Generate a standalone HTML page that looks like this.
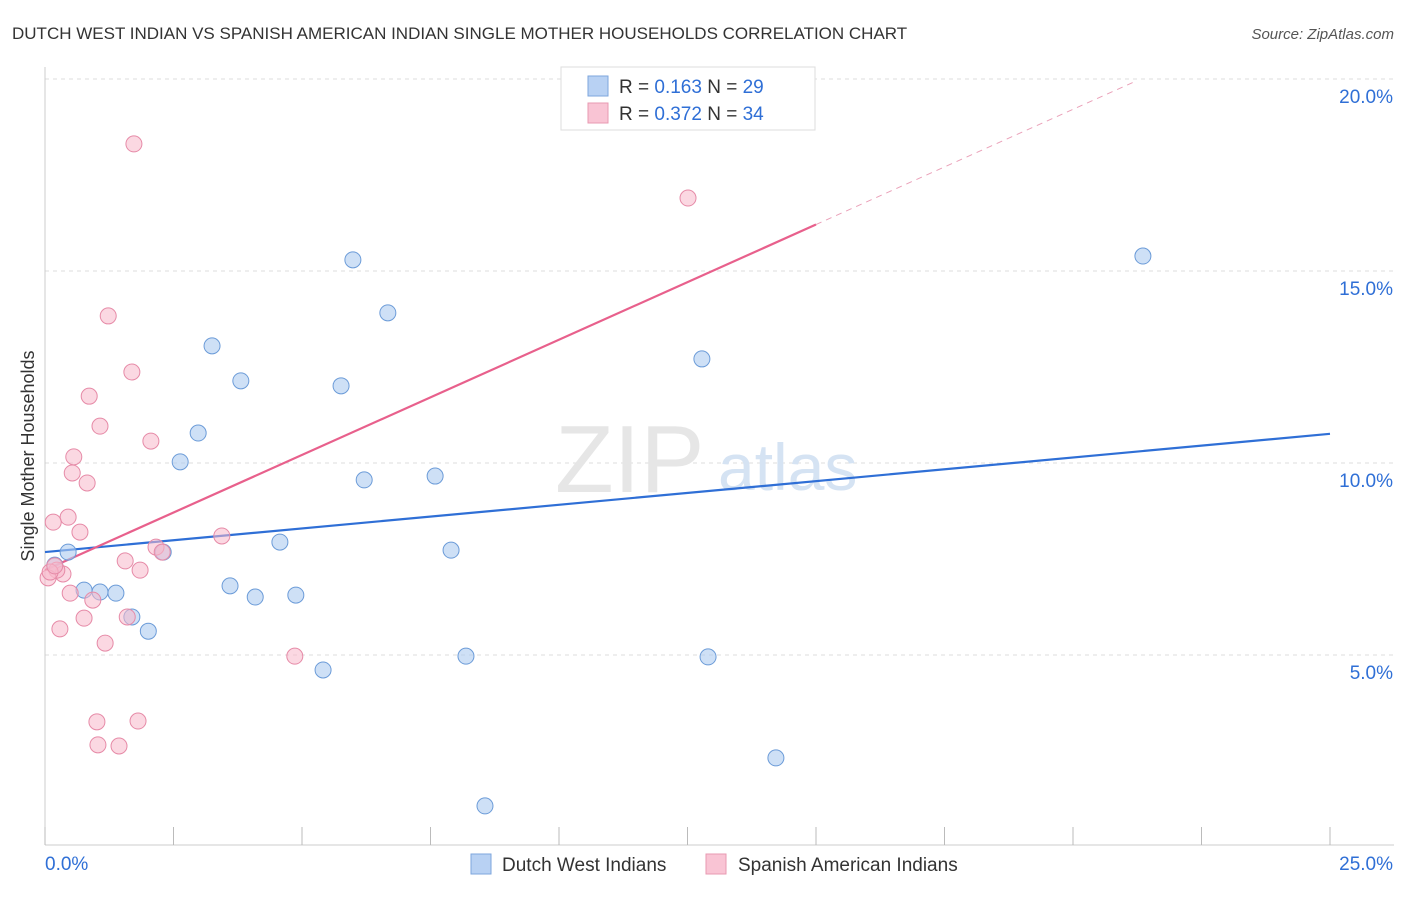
<!DOCTYPE html>
<html><head><meta charset="utf-8"><style>
body{margin:0;background:#fff;font-family:"Liberation Sans",sans-serif;}
svg text{font-family:"Liberation Sans",sans-serif;}
</style></head><body>
<svg width="1406" height="892" xmlns="http://www.w3.org/2000/svg">
<text x="12" y="39" font-size="17" fill="#333">DUTCH WEST INDIAN VS SPANISH AMERICAN INDIAN SINGLE MOTHER HOUSEHOLDS CORRELATION CHART</text>
<text x="1394" y="39" font-size="15" fill="#555" text-anchor="end" font-style="italic">Source: ZipAtlas.com</text>
<g id="grid"></g>
<g id="axes"></g>
<text x="555" y="492" font-size="96" fill="#e6e6e6" font-family="Liberation Serif">ZIP</text>
<text x="718" y="490" font-size="66" fill="#d5e3f3">atlas</text>
<g id="lines"></g>
<g id="pts"></g>
<text transform="translate(34,456) rotate(-90)" font-size="18" fill="#333" text-anchor="middle">Single Mother Households</text>
<g>
<rect x="561" y="67" width="254" height="63" fill="#fff" stroke="#ddd"/>
<rect x="588" y="76" width="20" height="20" fill="#b8d1f3" stroke="#7ea6dc"/>
<rect x="588" y="103" width="20" height="20" fill="#f9c4d4" stroke="#e89ab2"/>
<text x="619" y="93" font-size="19" fill="#333">R = <tspan fill="#2f6fd6">0.163</tspan>   N = <tspan fill="#2f6fd6">29</tspan></text>
<text x="619" y="120" font-size="19" fill="#333">R = <tspan fill="#2f6fd6">0.372</tspan>   N = <tspan fill="#2f6fd6">34</tspan></text>
</g>
<g>
<rect x="471" y="854" width="20" height="20" fill="#b8d1f3" stroke="#7ea6dc"/>
<text x="502" y="871" font-size="19" fill="#333">Dutch West Indians</text>
<rect x="706" y="854" width="20" height="20" fill="#f9c4d4" stroke="#e89ab2"/>
<text x="738" y="871" font-size="19" fill="#333">Spanish American Indians</text>
</g>
</svg>
<script>
const blueX=[0.45,0.19,0.76,1.07,1.38,1.69,2.01,2.30,2.63,2.98,3.25,3.60,3.81,4.09,4.57,4.88,5.41,5.76,5.99,6.21,6.67,7.59,7.90,8.19,8.56,12.78,12.90,14.22,21.36];
const blueY=[7.68,7.34,6.69,6.64,6.61,5.99,5.62,7.68,10.03,10.78,13.05,6.80,12.14,6.51,7.94,6.56,4.61,12.01,15.29,9.56,13.91,9.66,7.73,4.97,1.07,12.71,4.95,2.32,15.39];
const pinkX=[1.73,1.23,1.69,0.86,1.07,2.06,0.56,0.53,0.82,0.45,0.16,0.68,3.44,2.16,2.28,1.56,1.85,0.35,0.23,0.06,0.49,0.93,0.76,1.60,0.29,1.17,4.86,1.01,1.81,1.03,1.44,12.51,0.10,0.19];
const pinkY=[18.31,13.83,12.37,11.74,10.96,10.57,10.16,9.74,9.48,8.59,8.46,8.20,8.10,7.81,7.68,7.45,7.21,7.11,7.21,7.01,6.61,6.43,5.96,5.99,5.68,5.31,4.97,3.26,3.28,2.66,2.63,16.90,7.16,7.32];
const blueTrend=[7.68,10.76]; // at x=0 and x=25
const pinkTrend=[7.21,0.6]; // intercept, slope
const yTicks=[5,10,15,20];
const xTickLabels=["0.0%","25.0%"];
const NS="http://www.w3.org/2000/svg";
const sx=v=>45+v*51.4, sy=v=>847-v*38.4;
function mk(t,a,p){const e=document.createElementNS(NS,t);for(const k in a)e.setAttribute(k,a[k]);document.getElementById(p).appendChild(e);return e;}
yTicks.forEach(t=>{
 const l=mk('line',{x1:45,x2:1394,y1:sy(t),y2:sy(t),stroke:'#ddd','stroke-dasharray':'4,4'},'grid');
 
 
 const tx=mk('text',{x:1393,y:sy(t)+24,'font-size':19,fill:'#2f6fd6','text-anchor':'end'},'grid');
 tx.textContent=t.toFixed(1)+'%';
 
 
});
mk('line',{x1:45,x2:45,y1:67,y2:845,stroke:'#ccc'},'axes');
mk('line',{x1:45,x2:1394,y1:845,y2:845,stroke:'#ccc'},'axes');
for(let i=0;i<=10;i++){const t=mk('line',{x1:sx(i*2.5),x2:sx(i*2.5),y1:827,y2:845,stroke:'#bbb'},'axes');
 
 }
let a=mk('text',{x:45,y:870,'font-size':19,fill:'#2f6fd6'},'axes');a.textContent=xTickLabels[0];

a=mk('text',{x:1393,y:870,'font-size':19,fill:'#2f6fd6','text-anchor':'end'},'axes');a.textContent=xTickLabels[1];

let ln=mk('line',{x1:sx(0),y1:sy(blueTrend[0]),x2:sx(25),y2:sy(blueTrend[1]),stroke:'#2f6fd6','stroke-width':2.2},'lines');

ln=mk('line',{x1:sx(0),y1:sy(pinkTrend[0]),x2:sx(15),y2:sy(pinkTrend[0]+15*pinkTrend[1]),stroke:'#e8608c','stroke-width':2.2},'lines');

ln=mk('line',{x1:sx(15),y1:sy(pinkTrend[0]+15*pinkTrend[1]),x2:sx(21.2),y2:sy(pinkTrend[0]+21.2*pinkTrend[1]),stroke:'#eaa0b8','stroke-width':1,'stroke-dasharray':'6,5'},'lines');

blueX.forEach((x,i)=>{const c=mk('circle',{cx:sx(x),cy:sy(blueY[i]),r:8,fill:'rgba(174,203,240,0.6)',stroke:'#6b9bd8','stroke-width':1},'pts');
 
 });
pinkX.forEach((x,i)=>{const c=mk('circle',{cx:sx(x),cy:sy(pinkY[i]),r:8,fill:'rgba(247,184,203,0.55)',stroke:'#e68aa7','stroke-width':1},'pts');
 
 });
</script>
</body></html>
